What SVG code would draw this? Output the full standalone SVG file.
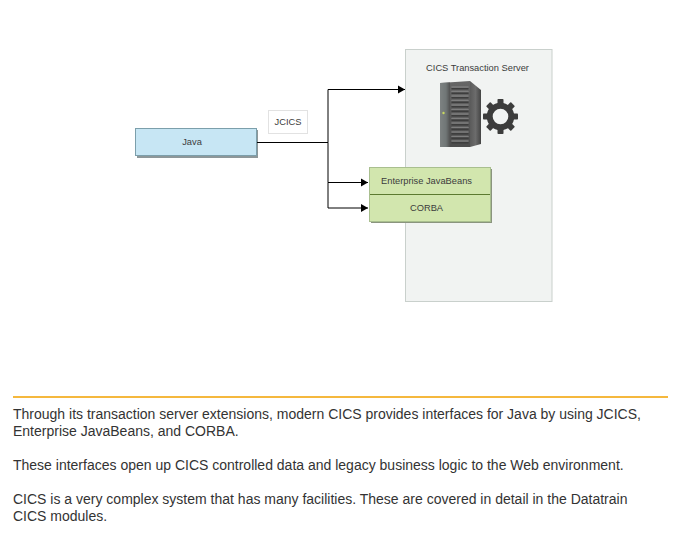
<svg xmlns="http://www.w3.org/2000/svg" width="676" height="536" viewBox="0 0 676 536">
<style>
text{font-family:"Liberation Sans",Arial,sans-serif;fill:#333}
.s{font-size:9.3px;text-anchor:middle;fill:#3c3c3c}
.b{font-size:14px;fill:#333}
.c{fill:none;stroke:#000;stroke-width:1}
.g{fill:#3c3c3c}
</style>
<defs>
<marker id="a" markerUnits="userSpaceOnUse" markerWidth="8" markerHeight="9" refX="7" refY="4.500" orient="auto"><path d="M0 .5L7 4.500L0 8.500z" fill="#000"/></marker>
<linearGradient id="side" x1="0" x2="1" y1="0" y2="0"><stop offset="0" stop-color="#5a5a5a"/><stop offset=".5" stop-color="#6c6c6c"/><stop offset="1" stop-color="#444"/></linearGradient>
<linearGradient id="strip" x1="0" x2="1" y1="0" y2="0"><stop offset="0" stop-color="#7d8282"/><stop offset=".6" stop-color="#707676"/><stop offset="1" stop-color="#505050"/></linearGradient>
<linearGradient id="front" x1="0" x2="0" y1="0" y2="1"><stop offset="0" stop-color="#666"/><stop offset="1" stop-color="#4c4c4c"/></linearGradient>
<rect id="t" x="497.500" y="99" width="6" height="6" rx=".8" class="g"/>
</defs>
<rect width="676" height="536" fill="#fff"/>
<g id="server">
<rect x="405.500" y="49.500" width="146.500" height="252" fill="#f1f3f2" stroke="#c9d0cc"/>
<text class="s" x="477.500" y="71">CICS Transaction Server</text>
<path d="M470 81L481 90V144L470 147z" fill="url(#side)"/>
<path d="M440 83L470 81V147H440z" fill="url(#front)"/>
<path d="M440 83L450 82.500V147H440z" fill="url(#strip)"/>
<path d="M452 87H468M452 91.500H468M452 96H468M452 100.500H468M452 105H468M452 109.500H468M452 114H468M452 118.500H468M452 123H468M452 127.500H468M452 132H468M452 136.500H468M452 141H468" stroke="#7e7e7e" stroke-width="1.600" stroke-linecap="round"/>
<path d="M452 88.800H468M452 93.300H468M452 97.800H468M452 102.300H468M452 106.800H468M452 111.300H468M452 115.800H468M452 120.300H468M452 124.800H468M452 129.300H468M452 133.800H468M452 138.300H468M452 142.800H468" stroke="#3d3d3d" stroke-width="1.400" stroke-linecap="round"/>
<circle cx="443.500" cy="113" r="1.200" fill="#c8d860"/>
<circle cx="500.500" cy="116.500" r="10.800" fill="none" stroke="#3c3c3c" stroke-width="6"/>
<use href="#t"/>
<use href="#t" transform="rotate(45 500.500 116.500)"/>
<use href="#t" transform="rotate(90 500.500 116.500)"/>
<use href="#t" transform="rotate(135 500.500 116.500)"/>
<use href="#t" transform="rotate(180 500.500 116.500)"/>
<use href="#t" transform="rotate(225 500.500 116.500)"/>
<use href="#t" transform="rotate(270 500.500 116.500)"/>
<use href="#t" transform="rotate(315 500.500 116.500)"/>
</g>
<g id="java">
<rect x="137" y="130" width="121" height="28" fill="#8d9799"/>
<rect x="135.500" y="128.500" width="121" height="27" fill="#c7e6f4" stroke="#7c9fab"/>
<text class="s" x="192" y="145">Java</text>
</g>
<g id="jcics">
<rect x="268.500" y="110.500" width="39" height="23" fill="#fff" stroke="#e2e2e2"/>
<text class="s" x="288" y="125">JCICS</text>
</g>
<g id="beans">
<rect x="371" y="169" width="121" height="54" fill="#8a947e"/>
<rect x="369.500" y="167.500" width="121" height="27" fill="#d2e6ae" stroke="#a9bf8f"/>
<text class="s" x="426.500" y="184">Enterprise JavaBeans</text>
</g>
<g id="corba">
<rect x="369.500" y="194.500" width="121" height="27" fill="#d2e6ae" stroke="#a9bf8f"/>
<path d="M370 194.500H490" stroke="#5c7a30"/>
<text class="s" x="426.500" y="211">CORBA</text>
</g>
<g id="connectors">
<path class="c" d="M257 142.500H328V89.500H405" marker-end="url(#a)"/>
<path class="c" d="M328 142.500V182.500H368" marker-end="url(#a)"/>
<path class="c" d="M328 182.500V208H368" marker-end="url(#a)"/>
</g>
<path d="M13 397H668" stroke="#f5b83d" stroke-width="2"/>
<g id="body">
<text class="b" x="13" y="419">Through its transaction server extensions, modern CICS provides interfaces for Java by using JCICS,</text>
<text class="b" x="13" y="436">Enterprise JavaBeans, and CORBA.</text>
<text class="b" x="13" y="470">These interfaces open up CICS controlled data and legacy business logic to the Web environment.</text>
<text class="b" x="13" y="504">CICS is a very complex system that has many facilities. These are covered in detail in the Datatrain</text>
<text class="b" x="13" y="521">CICS modules.</text>
</g>
</svg>
